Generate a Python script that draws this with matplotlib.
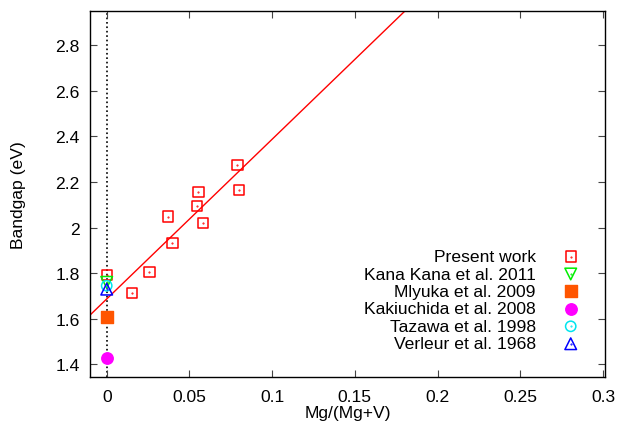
import matplotlib
matplotlib.use("Agg")
import matplotlib.pyplot as plt
import numpy as np

plt.rcParams['font.family'] = ['Liberation Sans', 'DejaVu Sans']

# Present work data
pw_x = [0.0, 0.0153, 0.0258, 0.037, 0.0397, 0.0546, 0.0554, 0.058, 0.079, 0.080]
pw_y = [1.792, 1.712, 1.805, 2.048, 1.932, 2.095, 2.156, 2.021, 2.274, 2.166]

# Literature values at x = 0
lit_labels = ["Kana Kana et al. 2011", "Mlyuka et al. 2009", "Kakiuchida et al. 2008",
              "Tazawa et al. 1998", "Verleur et al. 1968"]
lit_x = [0.0, 0.0, 0.0, 0.0, 0.0]
lit_y = [1.76, 1.609, 1.428, 1.745, 1.73]

# Linear fit
fit_intercept = 1.687
fit_slope = 7.0

xticks = [0, 0.05, 0.1, 0.15, 0.2, 0.25, 0.3]
xticklabels = ["0", "0.05", "0.1", "0.15", "0.2", "0.25", "0.3"]
yticks = [1.4, 1.6, 1.8, 2.0, 2.2, 2.4, 2.6, 2.8]
yticklabels = ["1.4", "1.6", "1.8", "2", "2.2", "2.4", "2.6", "2.8"]

FS = 12.6

fig = plt.figure(figsize=(6.21, 4.31), dpi=100)
ax = fig.add_axes([90/621, 1 - 378/431, (605-90)/621, (378-12)/431])

ax.set_xlim(-0.0101, 0.3012)
ax.set_ylim(1.345, 2.949)

# vertical dotted line at x=0
ax.axvline(0, color='black', linestyle=':', linewidth=1.2, zorder=1)

# fit line
xl = np.array([-0.0101, 0.3012])
ax.plot(xl, fit_intercept + fit_slope * xl, color='red', linewidth=1.0, zorder=2)

handles = []
h0 = ax.scatter(pw_x, pw_y, marker='s', s=55, facecolors='none', edgecolors='red',
                linewidths=1.1, zorder=3)
d0 = ax.scatter(pw_x, pw_y, marker='.', s=1, color='red', zorder=3)
handles.append((h0, d0))

styles = [
    (dict(marker='v', s=70, facecolors='none', edgecolors='#00ee00', linewidths=1.1), True),
    (dict(marker='s', s=75, facecolors='#ff5500', edgecolors='#ff5500', linewidths=1.0), False),
    (dict(marker='o', s=68, facecolors='#ff00ff', edgecolors='#ff00ff', linewidths=1.0), False),
    (dict(marker='o', s=55, facecolors='none', edgecolors='#00e5ee', linewidths=1.1), True),
    (dict(marker='^', s=70, facecolors='none', edgecolors='#0000ff', linewidths=1.1), True),
]
for lx, ly, (st, dot) in zip(lit_x, lit_y, styles):
    h = ax.scatter([lx], [ly], zorder=4, **st)
    if dot:
        d = ax.scatter([lx], [ly], marker='.', s=1, color=st['edgecolors'], zorder=4)
        handles.append((h, d))
    else:
        handles.append(h)

ax.set_xticks(xticks)
ax.set_xticklabels(xticklabels)
ax.set_yticks(yticks)
ax.set_yticklabels(yticklabels)
ax.tick_params(direction='in', top=True, right=True, length=5, width=0.8,
               labelsize=FS, color='#444444')
ax.tick_params(axis='x', pad=8.5)
ax.tick_params(axis='y', pad=7.5)
for sp in ax.spines.values():
    sp.set_linewidth(1.0)

ax.set_xlabel("Mg/(Mg+V)", fontsize=FS, labelpad=1)
ax.set_ylabel("Bandgap (eV)", fontsize=FS, labelpad=21)

labels = ["Present work"] + lit_labels
leg = ax.legend(handles=handles, labels=labels, loc='lower right',
                bbox_to_anchor=(0.981, 0.051),
                frameon=False, fontsize=FS, markerfirst=False, handletextpad=1.0,
                labelspacing=0.125, borderaxespad=0.0, scatterpoints=1)
for t in leg.get_texts():
    t.set_ha('right')
leg._legend_box.align = "right"

fig.savefig("out.png", dpi=100)
